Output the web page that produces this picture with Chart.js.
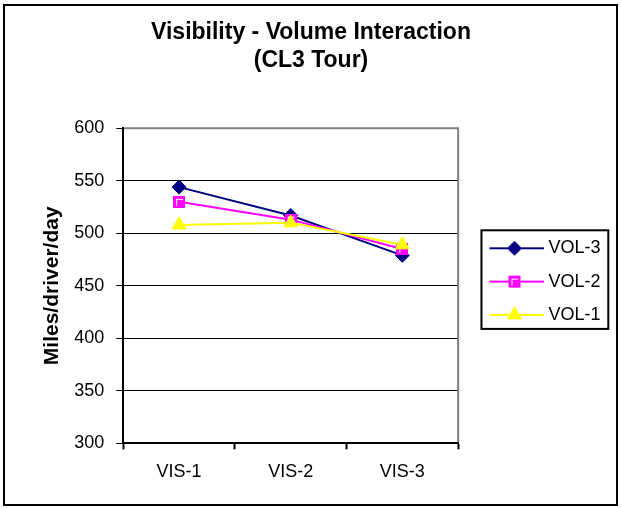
<!DOCTYPE html>
<html>
<head>
<meta charset="utf-8">
<script src="https://cdn.jsdelivr.net/npm/chart.js@4.4.1/dist/chart.umd.min.js"></script>
<style>
  html, body { margin: 0; padding: 0; background: #fff; }
</style>
</head>
<body>
<canvas id="myChart" width="622" height="508"></canvas>
<script>
var categories = ['VIS-1', 'VIS-2', 'VIS-3'];
var vol3 = [544, 517, 479];
var vol2 = [530, 513, 485];
var vol1 = [508, 510, 489];
var yMin = 300, yMax = 600, yStep = 50;

var FONT = 'Arial, "Liberation Sans", sans-serif';

// square marker: solid magenta with a thin white inner corner
function squareMarker() {
  var c = document.createElement('canvas');
  c.width = 12; c.height = 12;
  var x = c.getContext('2d');
  x.fillStyle = '#FF00FF';
  x.fillRect(0, 0, 12, 12);
  x.fillStyle = '#fff';
  x.fillRect(3, 3, 7, 1);
  x.fillRect(3, 3, 1, 7);
  return c;
}
var sq = squareMarker();

// legend icon: short line with the marker in the middle
function legendIcon(color, style, radius) {
  var c = document.createElement('canvas');
  c.width = 76; c.height = 18;
  var x = c.getContext('2d');
  x.strokeStyle = color;
  x.lineWidth = 2;
  x.beginPath(); x.moveTo(21, 9); x.lineTo(76, 9); x.stroke();
  if (typeof style === 'string') {
    x.fillStyle = color;
    x.lineWidth = 1;
    Chart.helpers.drawPoint(x, {pointStyle: style, radius: radius, borderWidth: 1, rotation: 0}, 46, 9);
  } else {
    x.drawImage(style, 46 - style.width / 2, 9 - style.height / 2);
  }
  return c;
}

var icons = [
  legendIcon('#FFFF00', 'triangle', 8),
  legendIcon('#FF00FF', sq),
  legendIcon('#000080', 'rectRot', 7)
];

var frame = {
  id: 'frame',
  beforeDraw: function (chart) {
    var ctx = chart.ctx;
    ctx.save();
    ctx.fillStyle = '#fff';
    ctx.fillRect(0, 0, chart.width, chart.height);
    ctx.strokeStyle = '#000';
    ctx.lineWidth = 2;
    ctx.strokeRect(4, 5, 613, 500);
    ctx.restore();
  },
  beforeDatasetsDraw: function (chart) {
    var a = chart.chartArea, ctx = chart.ctx;
    ctx.save();
    ctx.strokeStyle = '#808080';
    ctx.lineWidth = 2;
    ctx.beginPath();
    ctx.moveTo(a.left + 1, a.top);
    ctx.lineTo(a.right, a.top);
    ctx.lineTo(a.right, a.bottom - 1);
    ctx.stroke();
    ctx.restore();
  },
  afterDraw: function (chart) {
    var lg = chart.legend, hb = lg.legendHitBoxes, ctx = chart.ctx;
    if (!hb || !hb.length) return;
    var top = hb[0].top - 9, bottom = hb[hb.length - 1].top + hb[hb.length - 1].height + 5;
    var left = hb[0].left + 8, right = lg.right + 3;
    ctx.save();
    ctx.strokeStyle = '#000';
    ctx.lineWidth = 2;
    ctx.strokeRect(left, top, right - left, bottom - top);
    ctx.restore();
  }
};

var data = {
  labels: categories,
  datasets: [{
    label: 'VOL-1',
    data: vol1,
    borderColor: '#FFFF00',
    backgroundColor: '#FFFF00',
    borderWidth: 2,
    pointStyle: 'triangle',
    pointRadius: 8,
    pointBorderWidth: 1
  }, {
    label: 'VOL-2',
    data: vol2,
    borderColor: '#FF00FF',
    backgroundColor: '#FF00FF',
    borderWidth: 2,
    pointStyle: sq,
    pointRadius: 6
  }, {
    label: 'VOL-3',
    data: vol3,
    borderColor: '#000080',
    backgroundColor: '#000080',
    borderWidth: 2,
    pointStyle: 'rectRot',
    pointRadius: 7,
    pointBorderWidth: 1
  }]
};

var myChart = new Chart(document.getElementById('myChart'), {
  type: 'line',
  data: data,
  plugins: [frame],
  options: {
    responsive: false,
    animation: false,
    events: [],
    layout: { padding: { left: 16.7, right: 16.7, top: 0, bottom: 4.7 } },
    plugins: {
      title: {
        display: true,
        text: ['Visibility - Volume Interaction', '(CL3 Tour)'],
        color: '#000',
        font: { family: FONT, size: 23, weight: 'bold', lineHeight: 1.2 },
        padding: { top: 19.2, bottom: 53.9 }
      },
      legend: {
        position: 'right',
        align: 'start',
        reverse: true,
        // empty title only pushes the entries down beside the plot
        title: { display: true, text: '', padding: { top: 209.6, bottom: 0 }, font: { size: 12 } },
        labels: {
          usePointStyle: true,
          pointStyleWidth: 66,
          padding: 15.3,
          color: '#000',
          font: { family: FONT, size: 18 },
          generateLabels: function (chart) {
            var items = Chart.defaults.plugins.legend.labels.generateLabels(chart);
            items.forEach(function (it) { it.pointStyle = icons[it.datasetIndex]; });
            return items;
          }
        }
      },
      tooltip: { enabled: false }
    },
    scales: {
      x: {
        type: 'category',
        offset: true,
        afterFit: function (s) { s.height = 60; },
        grid: { offset: true, drawOnChartArea: false, drawTicks: true, tickLength: 6, tickColor: '#000', tickWidth: 2 },
        border: { color: '#000', width: 2 },
        ticks: { color: '#000', padding: 12, font: { family: FONT, size: 18 } }
      },
      y: {
        min: yMin,
        max: yMax,
        afterFit: function (s) { s.width = 106.6; },
        ticks: { stepSize: yStep, color: '#000', padding: 12, font: { family: FONT, size: 18 } },
        grid: {
          color: function (c) { return c.tick && c.tick.value === yMax ? '#808080' : '#000'; },
          lineWidth: 1,
          tickLength: 7,
          tickColor: '#000'
        },
        border: { color: '#000', width: 2 },
        title: {
          display: true,
          text: 'Miles/driver/day',
          color: '#000',
          font: { family: FONT, size: 21, weight: 'bold' },
          padding: { top: 22.7, bottom: 0 }
        }
      }
    }
  }
});
</script>
</body>
</html>
